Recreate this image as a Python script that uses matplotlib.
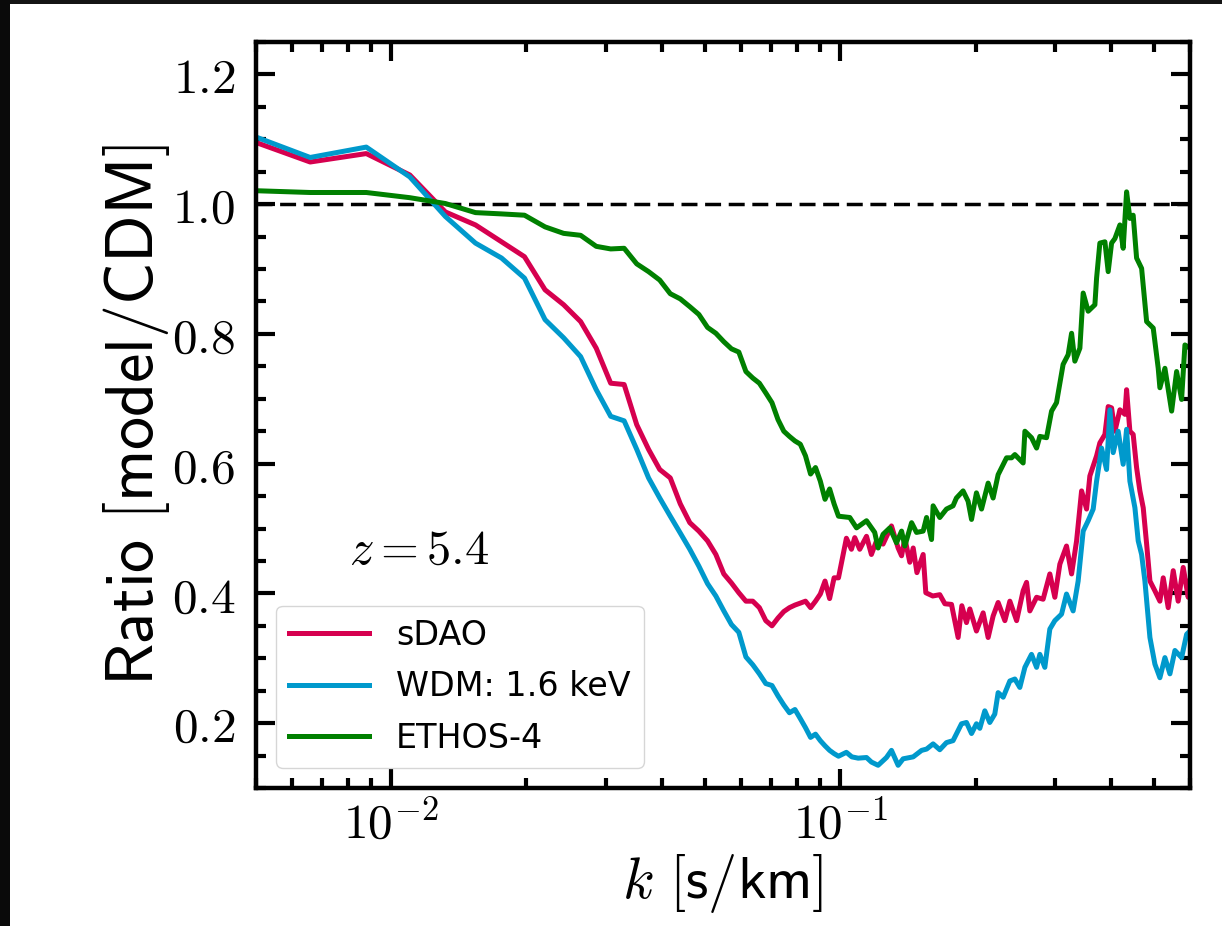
import matplotlib
matplotlib.use("Agg")
import matplotlib.pyplot as plt
from matplotlib.patches import Rectangle

plt.rcParams["mathtext.fontset"] = "cm"
plt.rcParams["font.family"] = "DejaVu Sans"

# Shared low-k bins (s/km)
k_grid = [0.0044, 0.0066, 0.0088, 0.0110, 0.0132, 0.0154, 0.0176, 0.0198,
          0.0220, 0.0242, 0.0264, 0.0286, 0.0308, 0.0330, 0.0352, 0.0374,
          0.0396, 0.0418, 0.0440, 0.0462, 0.0484, 0.0506, 0.0528, 0.0550,
          0.0572, 0.0594, 0.0616, 0.0638, 0.0660, 0.0682, 0.0704, 0.0726,
          0.0748, 0.0770, 0.0792, 0.0814, 0.0836, 0.0858, 0.0880, 0.0902,
          0.0924, 0.0946, 0.0968, 0.0990]

# sDAO
sdao_low = [1.109, 1.065, 1.078, 1.045, 0.988, 0.968, 0.942, 0.919, 0.868,
            0.845, 0.819, 0.778, 0.724, 0.722, 0.660, 0.622, 0.591, 0.578,
            0.538, 0.509, 0.496, 0.481, 0.460, 0.430, 0.416, 0.401, 0.388,
            0.388, 0.378, 0.358, 0.350, 0.362, 0.372, 0.378, 0.382, 0.385,
            0.388, 0.378, 0.388, 0.399, 0.419, 0.392, 0.424, 0.424]
sdao_k_high = [0.1031, 0.1058, 0.1076, 0.1104, 0.1143, 0.1172, 0.1203, 0.1244,
               0.1299, 0.1344, 0.1368, 0.1391, 0.1427, 0.1452, 0.1480, 0.1528,
               0.1549, 0.1605, 0.1664, 0.1708, 0.1767, 0.1828, 0.1863, 0.1908,
               0.1941, 0.2008, 0.2078, 0.2132, 0.2187, 0.2244, 0.2323, 0.2383,
               0.2467, 0.2551, 0.2596, 0.2640, 0.2733, 0.2826, 0.2925, 0.3001,
               0.3079, 0.3186, 0.3270, 0.3355, 0.3442, 0.3531, 0.3591, 0.3717,
               0.3780, 0.3879, 0.3945, 0.4014, 0.4083, 0.4189, 0.4298, 0.4335,
               0.4409, 0.4484, 0.4563, 0.4641, 0.4721, 0.4804, 0.4886, 0.5012,
               0.5142, 0.5231, 0.5366, 0.5506, 0.5647, 0.5795, 0.5945, 0.6000]
sdao_high = [0.485, 0.468, 0.486, 0.468, 0.488, 0.460, 0.481, 0.476,
             0.504, 0.470, 0.458, 0.485, 0.448, 0.470, 0.432, 0.460,
             0.401, 0.396, 0.398, 0.384, 0.383, 0.332, 0.381, 0.355,
             0.376, 0.342, 0.370, 0.332, 0.365, 0.386, 0.358, 0.388,
             0.358, 0.404, 0.417, 0.373, 0.394, 0.391, 0.430, 0.394,
             0.445, 0.473, 0.430, 0.481, 0.558, 0.530, 0.581, 0.612,
             0.632, 0.645, 0.688, 0.686, 0.650, 0.683, 0.676, 0.714,
             0.650, 0.645, 0.594, 0.558, 0.532, 0.476, 0.419, 0.404,
             0.388, 0.424, 0.378, 0.435, 0.388, 0.440, 0.394, 0.419]

# WDM, 1.6 keV
wdm_low = [1.118, 1.072, 1.088, 1.042, 0.981, 0.940, 0.917, 0.886, 0.822,
           0.794, 0.765, 0.714, 0.673, 0.666, 0.622, 0.578, 0.547, 0.519,
           0.493, 0.468, 0.442, 0.415, 0.396, 0.373, 0.352, 0.340, 0.302,
           0.290, 0.276, 0.261, 0.258, 0.242, 0.228, 0.216, 0.221, 0.207,
           0.193, 0.178, 0.183, 0.173, 0.165, 0.158, 0.153, 0.149]
wdm_k_high = [0.1031, 0.1060, 0.1095, 0.1143, 0.1172, 0.1213, 0.1266, 0.1299,
              0.1344, 0.1379, 0.1452, 0.1516, 0.1555, 0.1608, 0.1664, 0.1722,
              0.1781, 0.1860, 0.1908, 0.1958, 0.2008, 0.2043, 0.2096, 0.2150,
              0.2206, 0.2244, 0.2303, 0.2383, 0.2445, 0.2508, 0.2574, 0.2663,
              0.2733, 0.2779, 0.2851, 0.2925, 0.3001, 0.3106, 0.3186, 0.3296,
              0.3382, 0.3470, 0.3560, 0.3653, 0.3717, 0.3813, 0.3912, 0.3980,
              0.4047, 0.4152, 0.4260, 0.4335, 0.4409, 0.4524, 0.4601, 0.4682,
              0.4762, 0.4886, 0.5012, 0.5142, 0.5276, 0.5413, 0.5554, 0.5747,
              0.5897, 0.6000]
wdm_high = [0.155, 0.148, 0.146, 0.147, 0.140, 0.135, 0.147, 0.158,
            0.135, 0.145, 0.148, 0.158, 0.160, 0.168, 0.159, 0.170,
            0.173, 0.199, 0.201, 0.184, 0.199, 0.192, 0.219, 0.201,
            0.214, 0.247, 0.240, 0.265, 0.268, 0.255, 0.286, 0.306,
            0.286, 0.306, 0.286, 0.345, 0.358, 0.368, 0.399, 0.373,
            0.419, 0.496, 0.512, 0.530, 0.573, 0.624, 0.591, 0.683,
            0.617, 0.650, 0.599, 0.653, 0.573, 0.532, 0.481, 0.460,
            0.419, 0.332, 0.291, 0.270, 0.301, 0.276, 0.312, 0.301,
            0.337, 0.342]

# ETHOS-4
ethos_low = [1.022, 1.018, 1.018, 1.010, 1.001, 0.987, 0.985, 0.983, 0.965,
             0.955, 0.952, 0.935, 0.931, 0.932, 0.908, 0.896, 0.883, 0.862,
             0.854, 0.842, 0.830, 0.810, 0.801, 0.788, 0.777, 0.772, 0.742,
             0.732, 0.724, 0.709, 0.694, 0.668, 0.650, 0.642, 0.635, 0.630,
             0.612, 0.584, 0.594, 0.573, 0.545, 0.561, 0.538, 0.519]
ethos_k_high = [0.1049, 0.1086, 0.1143, 0.1192, 0.1213, 0.1244, 0.1288, 0.1333,
                0.1368, 0.1391, 0.1440, 0.1477, 0.1528, 0.1555, 0.1595, 0.1608,
                0.1664, 0.1722, 0.1781, 0.1812, 0.1875, 0.1924, 0.1958, 0.2008,
                0.2061, 0.2132, 0.2187, 0.2244, 0.2343, 0.2404, 0.2445, 0.2551,
                0.2574, 0.2663, 0.2733, 0.2779, 0.2876, 0.2951, 0.3027, 0.3131,
                0.3213, 0.3270, 0.3325, 0.3412, 0.3470, 0.3560, 0.3685, 0.3717,
                0.3780, 0.3879, 0.3945, 0.4014, 0.4083, 0.4189, 0.4260, 0.4335,
                0.4409, 0.4484, 0.4563, 0.4682, 0.4804, 0.4969, 0.5098, 0.5142,
                0.5276, 0.5461, 0.5602, 0.5747, 0.5846, 0.6000]
ethos_high = [0.517, 0.501, 0.512, 0.494, 0.470, 0.491, 0.501, 0.478,
              0.496, 0.473, 0.509, 0.494, 0.496, 0.517, 0.483, 0.535,
              0.517, 0.530, 0.535, 0.547, 0.558, 0.542, 0.514, 0.555,
              0.530, 0.570, 0.547, 0.583, 0.609, 0.609, 0.614, 0.601,
              0.650, 0.640, 0.624, 0.642, 0.640, 0.681, 0.694, 0.753,
              0.768, 0.801, 0.758, 0.778, 0.863, 0.835, 0.845, 0.886,
              0.940, 0.942, 0.896, 0.940, 0.947, 0.968, 0.932, 1.019,
              0.978, 0.983, 0.917, 0.901, 0.819, 0.809, 0.747, 0.717,
              0.747, 0.681, 0.742, 0.699, 0.783, 0.778]

labels = ["sDAO", "WDM: 1.6 keV", "ETHOS-4"]
colors = ["#d6004f", "#0099cc", "#008000"]
series = [
    (k_grid + sdao_k_high, sdao_low + sdao_high),
    (k_grid + wdm_k_high, wdm_low + wdm_high),
    (k_grid + ethos_k_high, ethos_low + ethos_high),
]

W, H = 1222, 926
fig = plt.figure(figsize=(W / 100, H / 100), dpi=100)
ax = fig.add_axes([256 / W, 1 - 788 / H, (1190 - 256) / W, (788 - 42) / H])

for (k, r), lab, col in zip(series, labels, colors):
    ax.plot(k, r, color=col, lw=3.6, label=lab, solid_joinstyle="round")

ax.axhline(1.0, color="black", lw=2.5, ls=(0, (4.6, 2.2)), zorder=1)

ax.set_xscale("log")
ax.set_xlim(0.005, 0.6)
ax.set_ylim(0.1, 1.25)
ax.set_yticks([0.2, 0.4, 0.6, 0.8, 1.0, 1.2])
ax.set_yticklabels([r"$0.2$", r"$0.4$", r"$0.6$", r"$0.8$", r"$1.0$", r"$1.2$"])
ax.set_xticks([0.01, 0.1])
ax.set_xticklabels([r"$10^{-2}$", r"$10^{-1}$"])
ax.yaxis.set_minor_locator(matplotlib.ticker.MultipleLocator(0.05))

for s in ax.spines.values():
    s.set_linewidth(3.2)
ax.tick_params(which="both", direction="in", top=True, right=True,
               width=3.0, labelsize=35.5)
ax.tick_params(which="major", length=14)
ax.tick_params(which="minor", length=7)
ax.tick_params(axis="y", which="major", pad=15)
ax.tick_params(axis="x", which="major", pad=9)

ax.set_ylabel(r"$\mathsf{Ratio\ [model/CDM]}$", fontsize=47.5, labelpad=0)
ax.set_xlabel(r"$k\ \mathsf{[s/km]}$", fontsize=42, labelpad=2)

ax.text(0.1, 0.3, r"$z = 5.4$", transform=ax.transAxes, fontsize=35)

ax.legend(loc="lower left", fontsize=24, handlelength=2.4, labelspacing=0.55,
          borderaxespad=0.6, framealpha=0.8)

# dark screen edge along the top and left
fig.patches.append(Rectangle((0, 1 - 4 / H), 1, 4 / H, transform=fig.transFigure,
                             facecolor="#141414", edgecolor="none"))
fig.patches.append(Rectangle((0, 0), 10 / W, 1, transform=fig.transFigure,
                             facecolor="#0a0a0a", edgecolor="none"))

fig.savefig("out.png", dpi=100)
